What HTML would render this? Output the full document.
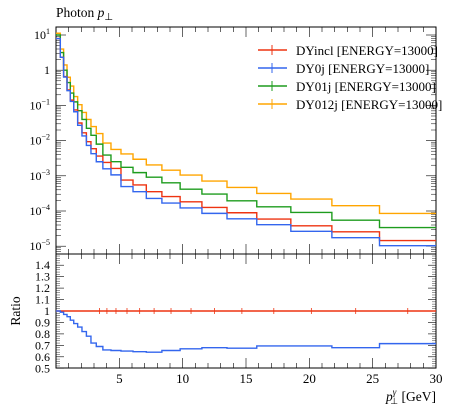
<!DOCTYPE html>
<html><head><meta charset="utf-8"><style>
body{margin:0;background:#fff;}
svg{display:block;font-family:"Liberation Serif",serif;}
</style></head><body>
<svg id="c" width="450" height="406" xmlns="http://www.w3.org/2000/svg">
<text x="56" y="17" font-size="13.5">Photon <tspan font-style="italic">p</tspan><tspan font-size="10" dy="3">⊥</tspan></text>
<text transform="translate(20,311) rotate(-90)" font-size="13.5" text-anchor="middle">Ratio</text>
<text x="436" y="401" font-size="13.5" text-anchor="end"><tspan font-style="italic">p</tspan><tspan font-size="9" dy="-6" font-style="italic">γ</tspan><tspan font-size="9" dx="-6" dy="9">⊥</tspan><tspan dy="-3"> [GeV]</tspan></text>
</svg>
<script>
const edges=[0,0.34,0.6,0.87,1.13,1.4,1.71,2.05,2.4,2.76,3.18,3.7,4.34,5.13,6.08,7.13,8.36,9.8,11.52,13.5,15.85,18.54,21.78,25.54,30];
const redLog=[0.9,0.37,-0.18,-0.56,-0.85,-1.13,-1.5,-1.78,-2.03,-2.23,-2.44,-2.62,-2.79,-3.12,-3.26,-3.45,-3.59,-3.74,-3.90,-4.05,-4.23,-4.42,-4.59,-4.84];
const ratioBlue=[1.0,0.99,0.97,0.95,0.92,0.89,0.86,0.82,0.78,0.72,0.69,0.66,0.655,0.65,0.645,0.64,0.655,0.67,0.68,0.675,0.695,0.695,0.68,0.715];
const greenLog=[1.0,0.5,0.0,-0.35,-0.65,-0.9,-1.15,-1.4,-1.65,-1.85,-2.1,-2.41,-2.6,-2.76,-2.91,-3.04,-3.2,-3.38,-3.52,-3.71,-3.88,-4.04,-4.26,-4.47];
const orangeLog=[1.05,0.6,0.15,-0.2,-0.45,-0.75,-0.98,-1.2,-1.4,-1.6,-1.8,-2.07,-2.25,-2.38,-2.53,-2.69,-2.84,-2.98,-3.15,-3.33,-3.5,-3.66,-3.85,-4.07];
const yTickLabels=["10<tspan dy='-5' font-size='8'>1</tspan>","1","10<tspan dy='-5' font-size='8'>−1</tspan>","10<tspan dy='-5' font-size='8'>−2</tspan>","10<tspan dy='-5' font-size='8'>−3</tspan>","10<tspan dy='-5' font-size='8'>−4</tspan>","10<tspan dy='-5' font-size='8'>−5</tspan>"];
const yTickPowers=[1,0,-1,-2,-3,-4,-5];
const rTicks=[0.5,0.6,0.7,0.8,0.9,1,1.1,1.2,1.3,1.4];
const xTicks=[5,10,15,20,25,30];

const L=56,R=436,T=27,MB=254,RB=368;
const X=v=>L+(v/30)*(R-L);
const Y=lg=>35+(1-lg)*35.2;
const RY=r=>311-(r-1)*114.5;
const svg=document.getElementById('c');
const NS="http://www.w3.org/2000/svg";
function mk(tag,attrs,parent){const e=document.createElementNS(NS,tag);for(const k in attrs)e.setAttribute(k,attrs[k]);(parent||svg).appendChild(e);return e;}

const f1=mk('rect',{x:L,y:T,width:R-L,height:MB-T,fill:'none',stroke:'#000','stroke-width':1});


const f2=mk('rect',{x:L,y:MB,width:R-L,height:RB-MB,fill:'none',stroke:'#000','stroke-width':1});



for(let v=1;v<30;v++){
  const x=X(v),big=v%5===0,len=big?10:5;
  for(const [y0,d] of [[T,1],[MB,-1],[MB,1],[RB,-1]]){
    const t=mk('line',{x1:x,x2:x,y1:y0,y2:y0+d*len,stroke:'#000','stroke-width':0.6});
    
    
  }
}
xTicks.forEach(v=>{
  const t=mk('text',{x:X(v),y:383,'font-size':13,'text-anchor':'middle'});
  t.textContent=v;
  
  
});
yTickPowers.forEach((p,i)=>{
  const y=Y(p);
  for(const [x0,d] of [[L,1],[R,-1]]){
    const t=mk('line',{x1:x0,x2:x0+d*10,y1:y,y2:y,stroke:'#000','stroke-width':0.6});
    
    
  }
  const lb=mk('text',{x:50,y:y+4,'font-size':12,'text-anchor':'end'});
  lb.innerHTML=yTickLabels[i];
  
  
  if(p>-5){for(let m=2;m<10;m++){
    const ym=Y(p-1+Math.log10(m));
    for(const [x0,d] of [[L,1],[R,-1]]){
      const t=mk('line',{x1:x0,x2:x0+d*5,y1:ym,y2:ym,stroke:'#000','stroke-width':0.5});
      
      
    }
  }}
});
for(let m=2;m<10;m++){const ym=Y(1+Math.log10(m)); if(ym>T){for(const [x0,d] of [[L,1],[R,-1]]){const t=mk('line',{x1:x0,x2:x0+d*5,y1:ym,y2:ym,stroke:'#000','stroke-width':0.5});}}}
for(let m=6;m<10;m++){const ym=Y(-6+Math.log10(m)); if(ym<MB){for(const [x0,d] of [[L,1],[R,-1]]){const t=mk('line',{x1:x0,x2:x0+d*5,y1:ym,y2:ym,stroke:'#000','stroke-width':0.5});}}}
rTicks.forEach(r=>{
  const y=RY(r);
  for(const [x0,d] of [[L,1],[R,-1]]){
    const t=mk('line',{x1:x0,x2:x0+d*8,y1:y,y2:y,stroke:'#000','stroke-width':0.6});
    
    
  }
  for(let k=1;k<5;k++){const ym=y-k*114.5*0.02;if(ym>MB){for(const [x0,d] of [[L,1],[R,-1]]){const t=mk('line',{x1:x0,x2:x0+d*4,y1:ym,y2:ym,stroke:'#000','stroke-width':0.4});}}}
  const lb=mk('text',{x:50,y:y+4,'font-size':12,'text-anchor':'end'});
  lb.textContent=String(r);
  
  
});

function stepPath(vals,fy){
  let d='';
  vals.forEach((v,i)=>{const y=fy(v);d+=(i===0?'M':'L')+X(edges[i])+','+y+'L'+X(edges[i+1])+','+y;});
  return d;
}
const blueLog=redLog.map((v,i)=>v+Math.log10(ratioBlue[i]));
const clipY=v=>Math.max(T,Y(v));
const series=[['orange','#ffa500',orangeLog],['green','#1e9c1e',greenLog],['red','#ee3311',redLog],['blue','#3366ee',blueLog]];
series.forEach(([n,c,vals])=>{
  const p=mk('path',{d:stepPath(vals,clipY),fill:'none',stroke:c,'stroke-width':1.4});
  
  
});
const redRatio=redLog.map(()=>1);
const rr=mk('path',{d:stepPath(redRatio,RY),fill:'none',stroke:'#ee3311','stroke-width':1.4});


redRatio.forEach((v,i)=>{if(i<10)return;const xm=X((edges[i]+edges[i+1])/2);const e=mk('line',{x1:xm,x2:xm,y1:RY(v)-3,y2:RY(v)+3,stroke:'#ee3311','stroke-width':0.8});});
const br=mk('path',{d:stepPath(ratioBlue,RY),fill:'none',stroke:'#3366ee','stroke-width':1.4});



const legend=[['DYincl [ENERGY=13000]','#ee3311'],['DY0j [ENERGY=13000]','#3366ee'],['DY01j [ENERGY=13000]','#1e9c1e'],['DY012j [ENERGY=13000]','#ffa500']];
legend.forEach(([t,c],i)=>{
  const y=50+i*18;
  const g=mk('g',{});
  
  
  mk('line',{x1:258,x2:287,y1:y,y2:y,stroke:c,'stroke-width':1.4},g);
  mk('line',{x1:272,x2:272,y1:y-5,y2:y+5,stroke:c,'stroke-width':1},g);
  const tx=mk('text',{x:296,y:y+5,'font-size':13},g);
  tx.textContent=t;
});
</script>
</body></html>
